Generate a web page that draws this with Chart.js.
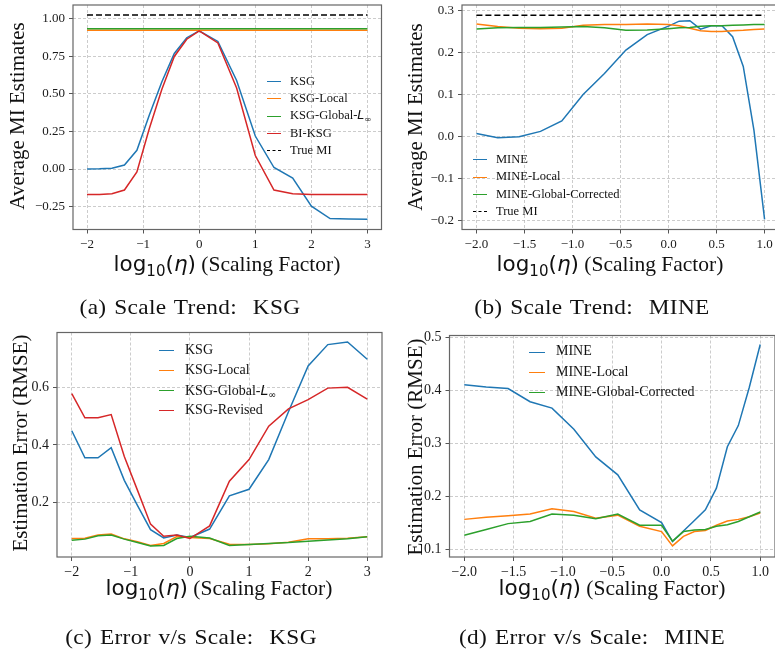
<!DOCTYPE html>
<html><head><meta charset="utf-8">
<script src="https://cdn.jsdelivr.net/npm/chart.js@4"></script>
<style>
html,body{margin:0;padding:0;background:#fff;width:775px;height:651px;overflow:hidden;position:relative}
canvas{position:absolute}
.t{position:absolute;white-space:nowrap;color:#111;line-height:1;font-family:"Liberation Serif",serif}
.m{font-family:"DejaVu Sans",sans-serif}
.cap{position:absolute;white-space:nowrap;color:#111;line-height:1;font-family:"Liberation Serif",serif;font-size:21px;letter-spacing:0.3px;word-spacing:1.5px;transform:translate(-50%,-50%) scaleX(1.11)}
.smp{position:absolute;height:0;border-top:1.5px solid}
.lt{position:absolute;white-space:nowrap;color:#111;font-family:"Liberation Serif",serif}
</style></head><body>
<canvas id="ca"></canvas><canvas id="cb"></canvas><canvas id="cc"></canvas><canvas id="cd"></canvas>
<div id="txt"></div>
<script>
// ---- x positions ----
const xA = [-2, -1.778, -1.556, -1.333, -1.111, -0.889, -0.667, -0.444, -0.222, 0, 0.333, 0.667, 1, 1.333, 1.667, 2, 2.333, 2.667, 3];
const xB = [-2, -1.778, -1.556, -1.333, -1.111, -0.889, -0.667, -0.444, -0.222, 0, 0.111, 0.222, 0.333, 0.444, 0.556, 0.667, 0.778, 0.889, 1];

// ---- (a) Scale Trend: KSG ----
const aKSG   = [0.0, 0.001, 0.005, 0.027, 0.125, 0.36, 0.58, 0.77, 0.875, 0.92, 0.85, 0.59, 0.22, 0.01, -0.06, -0.248, -0.33, -0.333, -0.335];
const aLocal = [0.925, 0.925, 0.925, 0.925, 0.925, 0.925, 0.925, 0.925, 0.925, 0.925, 0.925, 0.925, 0.925, 0.925, 0.925, 0.925, 0.925, 0.925, 0.925];
const aGlob  = [0.935, 0.935, 0.935, 0.935, 0.935, 0.935, 0.935, 0.935, 0.935, 0.935, 0.935, 0.935, 0.935, 0.935, 0.935, 0.935, 0.935, 0.935, 0.935];
const aBI    = [-0.17, -0.17, -0.165, -0.14, -0.02, 0.27, 0.53, 0.75, 0.865, 0.92, 0.84, 0.54, 0.09, -0.14, -0.165, -0.17, -0.17, -0.17, -0.17];
const aTrue  = [1.026, 1.026, 1.026, 1.026, 1.026, 1.026, 1.026, 1.026, 1.026, 1.026, 1.026, 1.026, 1.026, 1.026, 1.026, 1.026, 1.026, 1.026, 1.026];

// ---- (b) Scale Trend: MINE ----
const bMINE  = [0.007, -0.003, -0.001, 0.012, 0.037, 0.1, 0.15, 0.206, 0.243, 0.263, 0.275, 0.276, 0.256, 0.264, 0.264, 0.238, 0.167, 0.015, -0.198];
const bLocal = [0.268, 0.262, 0.258, 0.257, 0.258, 0.265, 0.267, 0.267, 0.268, 0.267, 0.264, 0.258, 0.252, 0.25, 0.25, 0.252, 0.253, 0.255, 0.256];
const bGlob  = [0.256, 0.259, 0.26, 0.26, 0.261, 0.262, 0.259, 0.253, 0.254, 0.257, 0.259, 0.26, 0.263, 0.264, 0.264, 0.265, 0.266, 0.267, 0.267];
const bTrue  = [0.289, 0.289, 0.289, 0.289, 0.289, 0.289, 0.289, 0.289, 0.289, 0.289, 0.289, 0.289, 0.289, 0.289, 0.289, 0.289, 0.289, 0.289, 0.289];

// ---- (c) Error v/s Scale: KSG ----
const cKSG   = [0.449, 0.355, 0.355, 0.39, 0.277, 0.19, 0.106, 0.077, 0.087, 0.079, 0.108, 0.223, 0.246, 0.349, 0.515, 0.674, 0.748, 0.757, 0.697];
const cLocal = [0.075, 0.076, 0.087, 0.091, 0.074, 0.064, 0.051, 0.058, 0.082, 0.079, 0.075, 0.055, 0.054, 0.057, 0.062, 0.074, 0.074, 0.076, 0.081];
const cGlob  = [0.069, 0.073, 0.085, 0.087, 0.073, 0.061, 0.049, 0.051, 0.075, 0.083, 0.077, 0.051, 0.054, 0.058, 0.061, 0.066, 0.07, 0.074, 0.081];
const cRev   = [0.578, 0.494, 0.494, 0.505, 0.36, 0.243, 0.125, 0.083, 0.087, 0.075, 0.119, 0.274, 0.349, 0.465, 0.525, 0.557, 0.597, 0.6, 0.559];

// ---- (d) Error v/s Scale: MINE ----
const dMINE  = [0.41, 0.406, 0.403, 0.378, 0.366, 0.326, 0.274, 0.24, 0.174, 0.15, 0.114, 0.134, 0.154, 0.174, 0.215, 0.293, 0.333, 0.405, 0.486];
const dLocal = [0.156, 0.16, 0.163, 0.166, 0.176, 0.171, 0.158, 0.164, 0.143, 0.133, 0.106, 0.124, 0.133, 0.135, 0.145, 0.153, 0.156, 0.161, 0.168];
const dGlob  = [0.126, 0.137, 0.148, 0.152, 0.166, 0.164, 0.157, 0.166, 0.145, 0.145, 0.115, 0.133, 0.136, 0.137, 0.143, 0.146, 0.152, 0.161, 0.17];

// ---- tick values ----
const ticksXA = [-2, -1, 0, 1, 2, 3];
const ticksYA = [-0.25, 0, 0.25, 0.5, 0.75, 1.0];
const ticksXB = [-2, -1.5, -1, -0.5, 0, 0.5, 1];
const ticksYB = [-0.2, -0.1, 0, 0.1, 0.2, 0.3];
const ticksYC = [0.2, 0.4, 0.6];
const ticksYD = [0.1, 0.2, 0.3, 0.4, 0.5];

const C = {blue:'#1f77b4', orange:'#ff7f0e', green:'#2ca02c', red:'#d62728', black:'#000'};
const pts = (xs, ys) => xs.map((x, i) => ({x: x, y: ys[i]}));
const minus = s => s.replace('-', '\u2212');

const frame = {id:'frame', afterDatasetsDraw(chart){
  const a = chart.chartArea, c = chart.ctx;
  c.save(); c.strokeStyle = '#666'; c.lineWidth = 1.2;
  c.strokeRect(a.left, a.top, a.right - a.left, a.bottom - a.top); c.restore();
}};

function ds(label, xs, ys, color, i, dash){
  return {label, data: pts(xs, ys), borderColor: color, backgroundColor: color,
    borderWidth: 1.5, pointRadius: 0, tension: 0, fill: false, order: -i,
    borderDash: dash || []};
}

function makeChart(id, rect, area, xr, yr, xt, yt, xf, yf, datasets, fs){
  const cv = document.getElementById(id);
  cv.style.left = rect[0] + 'px'; cv.style.top = rect[1] + 'px';
  cv.width = rect[2]; cv.height = rect[3];
  const font = {family: '"Liberation Serif", serif', size: fs};
  const grid = {color: 'rgba(170,170,170,0.75)', lineWidth: 0.8, tickColor: '#555', tickLength: 4, tickWidth: 1, tickBorderDash: []};
  new Chart(cv, {
    type: 'line',
    data: {datasets},
    options: {
      responsive: false, animation: false, devicePixelRatio: 1,
      layout: {padding: {left: 0, top: area[1] - rect[1], right: rect[0] + rect[2] - area[2], bottom: 0}},
      plugins: {legend: {display: false}, tooltip: {enabled: false}},
      scales: {
        x: {type: 'linear', min: xr[0], max: xr[1],
          afterBuildTicks: s => { s.ticks = xt.map(v => ({value: v})); },
          afterFit: s => { s.height = rect[1] + rect[3] - area[3]; s.paddingLeft = 0; s.paddingRight = 0; },
          ticks: {autoSkip: false, maxRotation: 0, minRotation: 0, padding: 3, color: '#1a1a1a', font, callback: v => minus(xf(v))},
          grid: grid, border: {display: false, dash: [3, 2]}},
        y: {type: 'linear', min: yr[0], max: yr[1],
          afterBuildTicks: s => { s.ticks = yt.map(v => ({value: v})); },
          afterFit: s => { s.width = area[0] - rect[0]; s.paddingTop = 0; s.paddingBottom = 0; },
          ticks: {autoSkip: false, padding: 4, color: '#1a1a1a', font, callback: v => minus(yf(v))},
          grid: grid, border: {display: false, dash: [3, 2]}}
      }
    },
    plugins: [frame]
  });
}

const fInt = v => String(Math.round(v));
const f1 = v => (Math.abs(v) < 1e-9 ? 0 : v).toFixed(1);
const f2 = v => (Math.abs(v) < 1e-9 ? 0 : v).toFixed(2);

makeChart('ca', [0, 0, 388, 320], [73, 5, 381.5, 229.5], [-2.25, 3.25], [-0.403, 1.093], ticksXA, ticksYA, fInt, f2, [
  ds('KSG', xA, aKSG, C.blue, 0), ds('KSG-Local', xA, aLocal, C.orange, 1), ds('KSG-Global-L∞', xA, aGlob, C.green, 2),
  ds('BI-KSG', xA, aBI, C.red, 3), ds('True MI', xA, aTrue, C.black, 4, [6, 3])], 13);

makeChart('cb', [388, 0, 400, 320], [462, 5, 779, 229.5], [-2.15, 1.15], [-0.222, 0.3135], ticksXB, ticksYB, f1, f1, [
  ds('MINE', xB, bMINE, C.blue, 0), ds('MINE-Local', xB, bLocal, C.orange, 1), ds('MINE-Global-Corrected', xB, bGlob, C.green, 2),
  ds('True MI', xB, bTrue, C.black, 3, [6, 3])], 13);

makeChart('cc', [0, 320, 388, 331], [57, 332.5, 382, 557], [-2.25, 3.25], [0.011, 0.79], ticksXA, ticksYC, fInt, f1, [
  ds('KSG', xA, cKSG, C.blue, 0), ds('KSG-Local', xA, cLocal, C.orange, 1), ds('KSG-Global-L∞', xA, cGlob, C.green, 2),
  ds('KSG-Revised', xA, cRev, C.red, 3)], 14);

makeChart('cd', [388, 320, 400, 331], [449.5, 335.5, 775, 557], [-2.15, 1.15], [0.085, 0.503], ticksXB, ticksYD, f1, f1, [
  ds('MINE', xB, dMINE, C.blue, 0), ds('MINE-Local', xB, dLocal, C.orange, 1), ds('MINE-Global-Corrected', xB, dGlob, C.green, 2)], 14);

// ---- text (titles, captions, legends) ----
const T = document.getElementById('txt');
function add(html, cls, css){ const d = document.createElement('div'); d.className = cls; d.innerHTML = html; d.style.cssText = css; T.appendChild(d); return d; }
const xTitle = '<span class="m">log<span style="font-size:0.7em;position:relative;top:0.32em">10</span>(<i>η</i>)</span> (Scaling Factor)';
function xt(cx, cy){ add(xTitle, 't', `left:${cx}px;top:${cy}px;font-size:21.5px;transform:translate(-50%,-50%)`); }
function yt(txt, cx, cy){ add(txt, 't', `left:${cx}px;top:${cy}px;font-size:21px;transform:translate(-50%,-50%) rotate(-90deg)`); }
function cap(txt, cx, cy){ add(txt, 'cap', `left:${cx}px;top:${cy}px`); }

xt(227, 264); xt(610, 264); xt(219, 588); xt(612, 588);
yt('Average MI Estimates', 17, 116); yt('Average MI Estimates', 415, 117);
yt('Estimation Error (RMSE)', 20, 443); yt('Estimation Error (RMSE)', 415, 447);
cap('(a) Scale Trend:&nbsp; KSG', 190, 307); cap('(b) Scale Trend:&nbsp; MINE', 592, 307);
cap('(c) Error v/s Scale:&nbsp; KSG', 191, 637); cap('(d) Error v/s Scale:&nbsp; MINE', 592, 637);

const Linf = 'KSG-Global-<span class="m" style="font-style:italic">L</span><span class="m" style="font-size:0.7em;position:relative;top:0.3em">∞</span>';
function legend(x0, x1, tx, ys, items, fs){
  items.forEach((it, i) => {
    add('', 'smp', `left:${x0}px;width:${x1 - x0}px;top:${ys[i] - 0.75}px;border-top-color:${it[1]};` + (it[2] ? 'border-top-style:dashed;' : ''));
    add(it[0], 'lt', `left:${tx}px;top:${ys[i]}px;font-size:${fs}px;transform:translateY(-55%)`);
  });
}
legend(266.5, 281, 290, [82, 99.2, 116.4, 133.6, 150.8], [['KSG', C.blue], ['KSG-Local', C.orange], [Linf, C.green], ['BI-KSG', C.red], ['True MI', C.black, 1]], 12.5);
legend(472.5, 487, 496, [160, 177.3, 194.6, 211.9], [['MINE', C.blue], ['MINE-Local', C.orange], ['MINE-Global-Corrected', C.green], ['True MI', C.black, 1]], 12.5);
legend(159.3, 174, 185, [350.7, 370.7, 390.7, 410.7], [['KSG', C.blue], ['KSG-Local', C.orange], [Linf, C.green], ['KSG-Revised', C.red]], 14);
legend(529.3, 545, 556, [352.3, 372.5, 392.7], [['MINE', C.blue], ['MINE-Local', C.orange], ['MINE-Global-Corrected', C.green]], 14);
</script>
</body></html>
